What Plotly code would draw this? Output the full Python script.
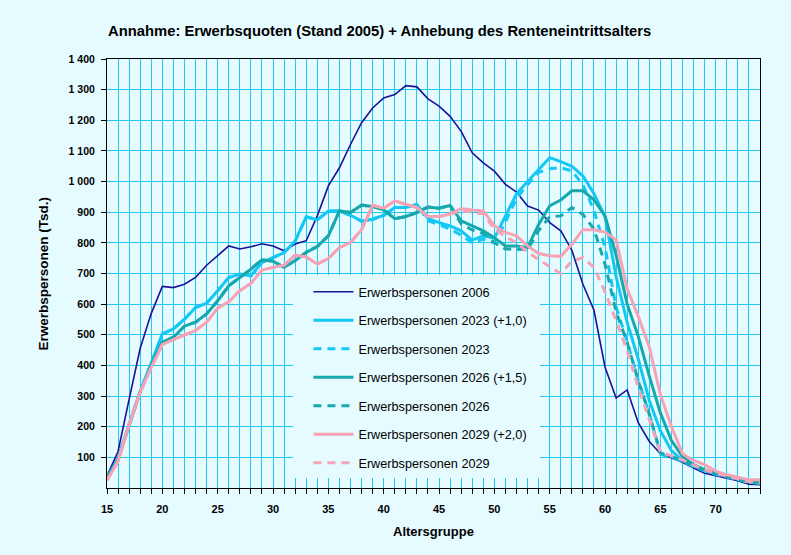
import plotly.graph_objects as go

ages = list(range(15, 75))

ep_2006 = [39, 119, 290, 456, 570, 658, 654, 665, 687, 727, 758, 790, 780, 787, 797, 790, 774, 796, 807, 888,
           986, 1045, 1121, 1192, 1240, 1273, 1284, 1313, 1309, 1270, 1246, 1213, 1164, 1094, 1061, 1034, 991, 966, 920, 907,
           866, 839, 776, 665, 580, 394, 294, 320, 213, 152, 112, 97, 84, 65, 48, 40, 33, 24, 12, 11]
ep_2023_plus = [33, 96, 208, 316, 408, 503, 519, 551, 589, 603, 644, 687, 698, 692, 736, 752, 768, 806, 885, 875,
                904, 904, 890, 871, 877, 890, 915, 915, 925, 880, 866, 855, 839, 809, 823, 815, 885, 960, 1000, 1040,
                1078, 1065, 1050, 1018, 960, 885, 690, 540, 421, 285, 187, 122, 89, 72, 57, 46, 38, 30, 22, 18]
ep_2023 = [33, 96, 208, 316, 408, 503, 519, 551, 589, 603, 644, 687, 698, 692, 736, 752, 768, 806, 885, 875,
           904, 904, 890, 871, 877, 890, 915, 915, 925, 872, 860, 845, 825, 800, 812, 800, 868, 945, 990, 1030,
           1042, 1045, 1035, 990, 905, 785, 590, 478, 352, 243, 110, 100, 88, 70, 55, 45, 37, 28, 18, 15]
ep_2026_plus = [33, 92, 205, 313, 400, 476, 492, 528, 541, 568, 611, 660, 687, 714, 745, 740, 720, 742, 769, 788,
                823, 904, 899, 923, 919, 908, 879, 886, 899, 917, 913, 922, 872, 856, 839, 817, 790, 790, 785, 860,
                921, 940, 970, 970, 940, 888, 760, 600, 495, 365, 245, 155, 102, 76, 60, 48, 40, 32, 24, 20]
ep_2026 = [33, 92, 205, 313, 400, 476, 492, 528, 541, 568, 611, 660, 687, 714, 745, 740, 720, 742, 769, 788,
           823, 904, 899, 923, 919, 908, 879, 886, 899, 917, 913, 922, 862, 842, 830, 800, 780, 778, 778, 840,
           885, 888, 915, 893, 845, 730, 575, 475, 350, 240, 115, 102, 90, 72, 57, 47, 38, 29, 19, 16]
ep_2029_plus = [25, 88, 207, 313, 394, 468, 484, 499, 514, 541, 587, 608, 644, 668, 711, 720, 727, 760, 754, 731,
                749, 785, 801, 843, 923, 913, 937, 926, 915, 886, 886, 894, 912, 907, 904, 856, 834, 823, 790, 765,
                758, 756, 795, 843, 843, 835, 810, 650, 560, 460, 305, 200, 112, 90, 76, 55, 43, 35, 27, 27]
ep_2029 = [25, 88, 207, 313, 394, 468, 484, 499, 514, 541, 587, 608, 644, 668, 711, 720, 727, 760, 754, 731,
           749, 785, 801, 843, 923, 913, 937, 926, 915, 886, 886, 894, 905, 900, 895, 845, 820, 800, 770, 745,
           722, 700, 740, 752, 720, 640, 546, 448, 328, 220, 118, 105, 92, 75, 60, 48, 40, 30, 20, 18]

series_names = ["Erwerbspersonen 2006", "Erwerbspersonen 2023 (+1,0)", "Erwerbspersonen 2023",
                "Erwerbspersonen 2026 (+1,5)", "Erwerbspersonen 2026", "Erwerbspersonen 2029 (+2,0)",
                "Erwerbspersonen 2029"]
series_values = [ep_2006, ep_2023_plus, ep_2023, ep_2026_plus, ep_2026, ep_2029_plus, ep_2029]

y_tickvals = list(range(100, 1500, 100))
y_ticktext = ["100", "200", "300", "400", "500", "600", "700", "800", "900", "1 000",
              "1 100", "1 200", "1 300", "1 400"]

title_text = "Annahme: Erwerbsquoten (Stand 2005) + Anhebung des Renteneintrittsalters"
x_title = "Altersgruppe"
y_title = "Erwerbspersonen (Tsd.)"

BG = "#E6FBFF"
GRID = "#22C8F2"
FONT = "Liberation Sans, Arial, sans-serif"

styles = [
    dict(color="#1A1199", width=1.6, dash="solid"),
    dict(color="#14C8F5", width=3, dash="solid"),
    dict(color="#14C8F5", width=3, dash="8px,6px"),
    dict(color="#16A8AD", width=3, dash="solid"),
    dict(color="#16A8AD", width=3, dash="8px,6px"),
    dict(color="#F5A3B5", width=3, dash="solid"),
    dict(color="#F5A3B5", width=3, dash="8px,6px"),
]

fig = go.Figure()
for i, (name, vals) in enumerate(zip(series_names, series_values)):
    fig.add_trace(go.Scatter(x=ages, y=vals, mode="lines", name=name,
                             line=styles[i], legendgroup=f"g{i}"))

W, H = 791, 555
L, R, T, B = 107, 31, 59, 67
PW, PH = W - L - R, H - T - B
fig.update_layout(
    width=W, height=H,
    paper_bgcolor=BG, plot_bgcolor=BG,
    margin=dict(l=L, r=R, t=T, b=B, autoexpand=False),
    font=dict(family=FONT, size=11, color="black"),
    showlegend=True,
    legend=dict(x=244 / W, y=1 - 282 / H, xanchor="left", yanchor="top",
                bgcolor="rgba(0,0,0,0)", borderwidth=0,
                font=dict(family=FONT, size=12.7, color="black"),
                itemwidth=40, tracegroupgap=9.0),
    shapes=[dict(type="rect", xref="paper", yref="paper", layer="above",
                 x0=(293 - L) / PW, x1=(540 - L) / PW,
                 y0=(H - B - 478) / PH, y1=(H - B - 275) / PH,
                 fillcolor=BG, line=dict(width=0))],
    annotations=[
        dict(text=title_text, xref="paper", yref="paper", x=(106 - L) / PW, y=1 + (T - 31) / PH,
             xanchor="left", yanchor="middle", showarrow=False,
             font=dict(family=FONT, size=14.8, color="black", weight="bold")),
        dict(text=x_title, xref="paper", yref="paper", x=0.5, y=-(531 - (H - B)) / PH,
             xanchor="center", yanchor="middle", showarrow=False,
             font=dict(family=FONT, size=13, color="black", weight="bold")),
        dict(text=y_title, xref="paper", yref="paper", x=-(L - 43) / PW, y=0.5,
             xanchor="center", yanchor="middle", showarrow=False, textangle=-90,
             font=dict(family=FONT, size=13.5, color="black", weight="bold")),
    ],
)
fig.update_xaxes(range=[15, 74], tick0=15, dtick=5, ticks="outside", ticklen=5, tickcolor="black",
                 showline=True, linecolor="black", linewidth=1, mirror=True,
                 showgrid=True, gridcolor=GRID, gridwidth=1, zeroline=False,
                 tickfont=dict(family=FONT, size=11, color="black", weight="bold"),
                 ticklabelstandoff=6,
                 minor=dict(dtick=1, tick0=15, ticks="outside", ticklen=5, tickcolor="black",
                            showgrid=True, gridcolor=GRID, gridwidth=1))
fig.update_yaxes(range=[0, 1400], tickvals=y_tickvals, ticktext=y_ticktext,
                 ticks="outside", ticklen=5, tickcolor="black",
                 showline=True, linecolor="black", linewidth=1, mirror=True,
                 showgrid=True, gridcolor=GRID, gridwidth=1, zeroline=False,
                 tickfont=dict(family=FONT, size=10.5, color="black", weight="bold"),
                 ticklabelstandoff=4)

fig.write_html("out.html", config={"displayModeBar": False},
               post_script="document.body.style.margin='0';")
